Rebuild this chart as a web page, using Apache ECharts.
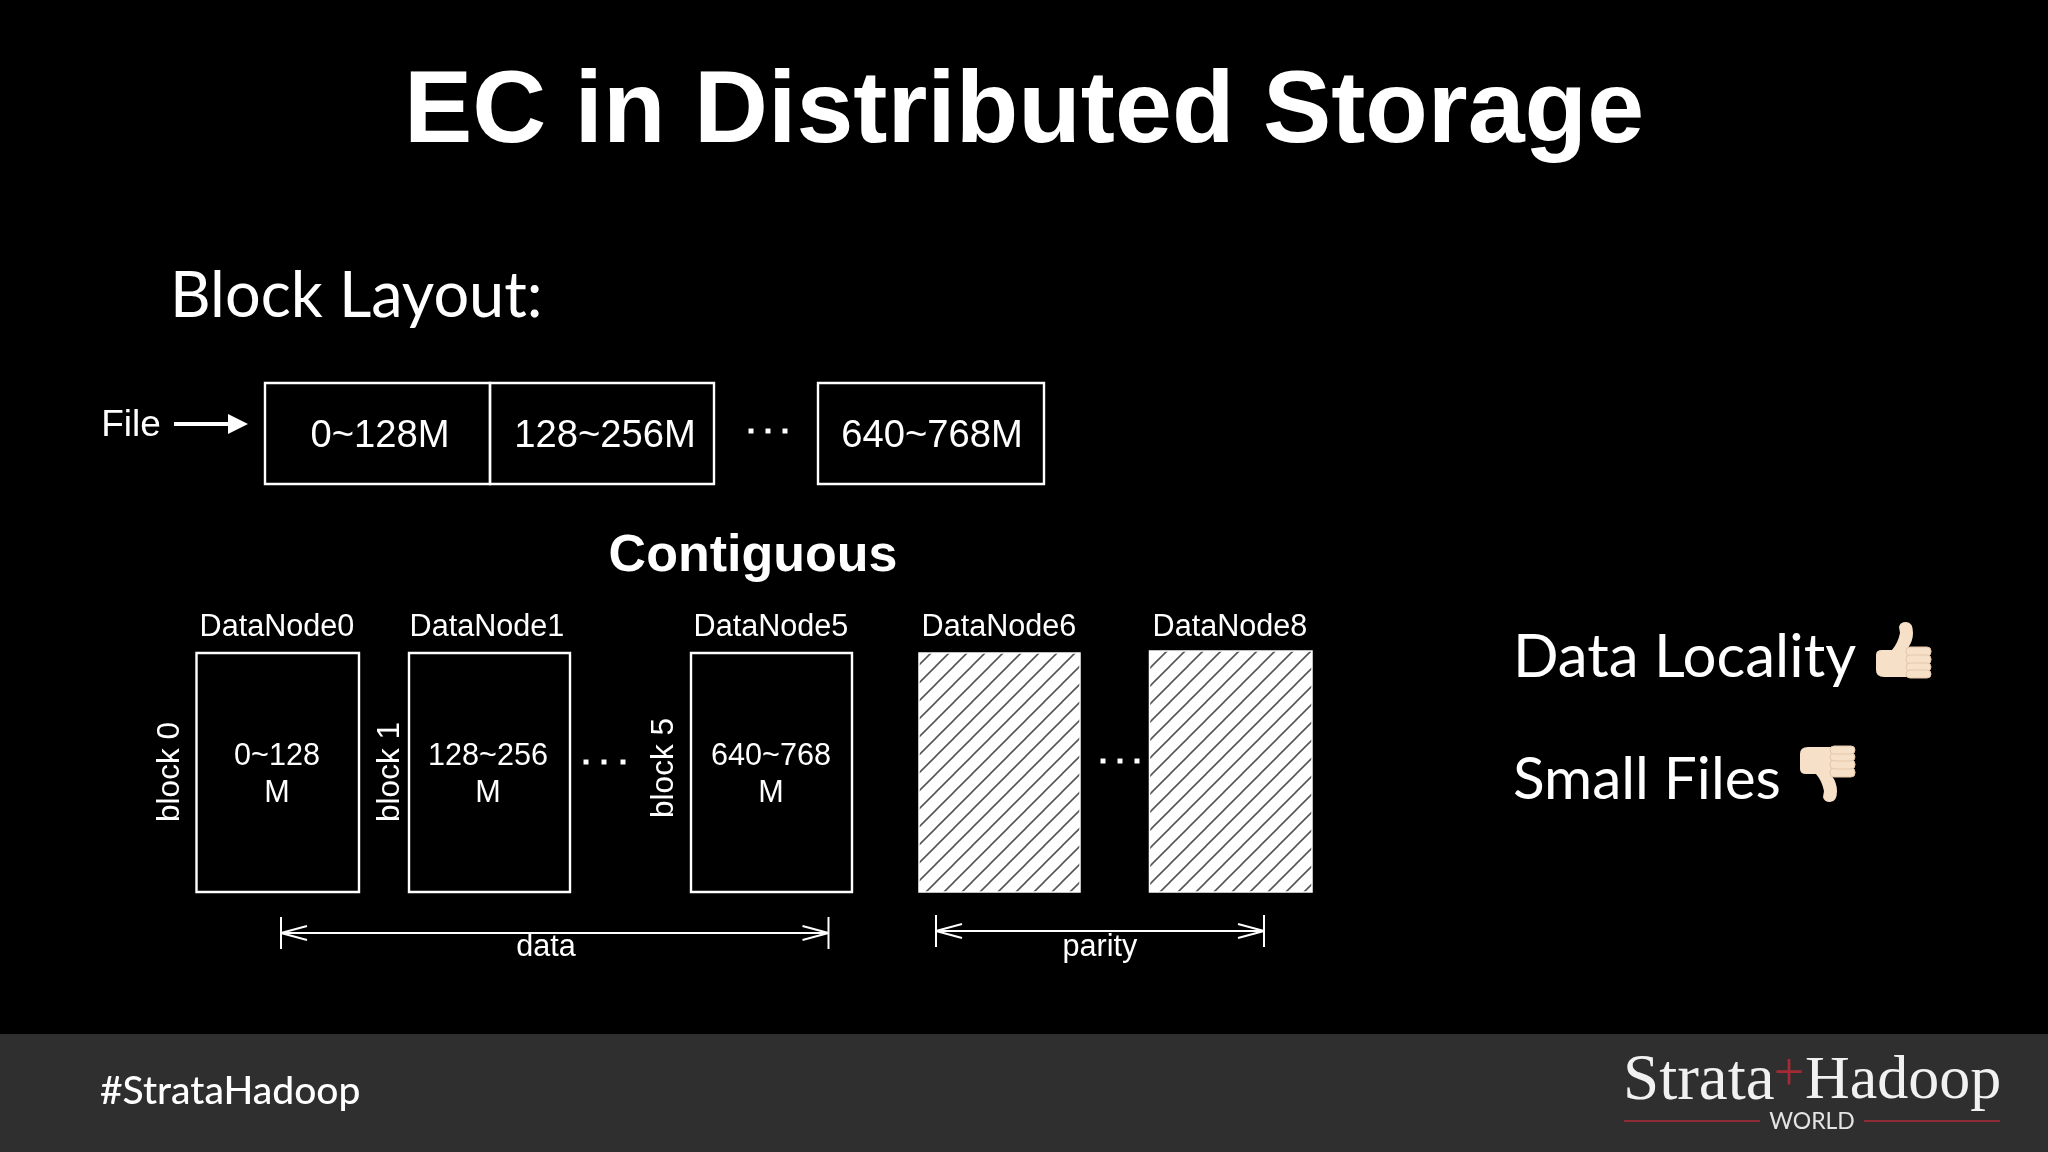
<!DOCTYPE html>
<html>
<head>
<meta charset="utf-8">
<style>
    html, body { margin: 0; padding: 0; background: #000; }
    #main { width: 2048px; height: 1152px; }
</style>
</head>
<body>
<div id="main"></div>
<script src="https://cdn.jsdelivr.net/npm/echarts@6/dist/echarts.min.js"></script>
<script>
    var fileBlocks = ['0~128M', '128~256M', '640~768M'];
    var fileBlockX = [[265, 490], [490, 714], [818, 1044]];
    var fileBlockY = [383, 484];
    var fileLabelX = [380, 605, 932];
    var fileDots = [[751, 431], [768, 431], [785, 431]];

    var dataNodes = ['DataNode0', 'DataNode1', 'DataNode5'];
    var dataNodeX = [[196.5, 359], [409, 570], [691, 852]];
    var dataLabelX = [277, 488, 771];
    var ranges = ['0~128', '128~256', '640~768'];
    var blockNames = ['block 0', 'block 1', 'block 5'];
    var blockNameX = [170, 390, 664];
    var blockNameY = [772, 772, 768];
    var nodeY = [653, 892];
    var dataDots = [[586, 762], [604, 762], [623, 762]];

    var parityNodes = ['DataNode6', 'DataNode8'];
    var parityNodeX = [[919, 1080], [1149.5, 1312]];
    var parityNodeY = [[653, 892], [651, 892]];
    var parityLabelX = [999, 1230];
    var parityDots = [[1103, 761], [1120, 761], [1137, 761]];

    var spanNames = ['data', 'parity'];
    var spans = [[281, 828.5, 933], [936, 1264, 931]];
    var spanLabelX = [546, 1100];

    var thumbs = [[1870, 615, 1], [1794, 809, -1]];
    var logoRules = [[1624, 1760, 1121], [1864, 2000, 1121]];

    var HELV = '"Liberation Sans"';
    var GILL = 'Lato';
    var SLAB = '"Liberation Serif"';

    // label table: text, x, y, size, family, weight, colour, rotation
    var labels = [
        ['EC in Distributed Storage', 1024, 114, 102.4, HELV, 'bold', '#fff', 0],
        ['Block Layout:', 170, 297, 63, GILL, 'normal', '#fff', 0],
        ['File', 131, 426, 37, HELV, 'normal', '#fff', 0],
        ['Contiguous', 753, 557, 52, HELV, 'bold', '#fff', 0],
        ['Data Locality', 1513, 658, 60, GILL, 'normal', '#fff', 0],
        ['Small Files', 1513, 780, 58.5, GILL, 'normal', '#fff', 0],
        ['#StrataHadoop', 100, 1091, 39, GILL, '500', '#fff', 0],
        ['Strata', 1623, 1082, 65, SLAB, 'normal', '#f1f1f1', 0],
        ['+', 1789, 1076, 54, SLAB, 'normal', '#a52a35', 0],
        ['Hadoop', 1805, 1082, 62, SLAB, 'normal', '#f1f1f1', 0],
        ['WORLD', 1812, 1122, 23, GILL, 'normal', '#e4e4e4', 0]
    ];
    fileBlocks.forEach(function (t, i) {
        labels.push([t, fileLabelX[i], 436, 38.2, HELV, 'normal', '#fff', 0]);
    });
    dataNodes.forEach(function (t, i) {
        labels.push([t, dataLabelX[i] - (i === 1 ? 1 : 0), 628, 30.6, HELV, 'normal', '#fff', 0]);
        labels.push([ranges[i], dataLabelX[i], 757, 30.6, HELV, 'normal', '#fff', 0]);
        labels.push(['M', dataLabelX[i], 794, 30.6, HELV, 'normal', '#fff', 0]);
        labels.push([blockNames[i], blockNameX[i], blockNameY[i], 31.5, HELV, 'normal', '#fff', Math.PI / 2]);
    });
    parityNodes.forEach(function (t, i) {
        labels.push([t, parityLabelX[i], 628, 30.6, HELV, 'normal', '#fff', 0]);
    });
    spanNames.forEach(function (t, i) {
        labels.push([t, spanLabelX[i], 948, 30.6, HELV, 'normal', '#fff', 0]);
    });
    var leftAligned = { 'Block Layout:': 1, 'Data Locality': 1, 'Small Files': 1, '#StrataHadoop': 1, 'Strata': 1, 'Hadoop': 1 };

    function hatchTile() {
        var tile = document.createElement('canvas');
        tile.width = 18;
        tile.height = 18;
        var ctx = tile.getContext('2d');
        ctx.fillStyle = '#fff';
        ctx.fillRect(0, 0, 18, 18);
        ctx.strokeStyle = '#555';
        ctx.lineWidth = 1.6;
        [-18, 0, 18].forEach(function (o) {
            ctx.beginPath();
            ctx.moveTo(o - 2, 20);
            ctx.lineTo(o + 20, -2);
            ctx.stroke();
        });
        return tile;
    }
    var hatch = { image: hatchTile(), repeat: 'repeat' };

    function boxItem(api) {
        var a = api.coord([api.value(0), api.value(1)]);
        var b = api.coord([api.value(2), api.value(3)]);
        return { x: a[0], y: a[1], width: b[0] - a[0], height: b[1] - a[1] };
    }

    var plainBoxes = [];
    fileBlockX.forEach(function (x) { plainBoxes.push([x[0], fileBlockY[0], x[1], fileBlockY[1]]); });
    dataNodeX.forEach(function (x) { plainBoxes.push([x[0], nodeY[0], x[1], nodeY[1]]); });
    var hatchBoxes = parityNodeX.map(function (x, i) {
        return [x[0], parityNodeY[i][0], x[1], parityNodeY[i][1]];
    });

    function spanShape(params, api) {
        var l = api.value(0), r = api.value(1), y = api.value(2);
        var segs = [
            [[l, y], [r, y]], [[l, y - 16], [l, y + 16]], [[r, y - 16], [r, y + 16]],
            [[l, y], [l + 26, y - 7]], [[l, y], [l + 26, y + 7]],
            [[r, y], [r - 26, y - 7]], [[r, y], [r - 26, y + 7]]
        ];
        return {
            type: 'group',
            children: segs.map(function (s) {
                var p = api.coord(s[0]), q = api.coord(s[1]);
                return { type: 'line', shape: { x1: p[0], y1: p[1], x2: q[0], y2: q[1] }, style: { stroke: '#fff', lineWidth: 2 } };
            })
        };
    }

    function thumbShape(params, api) {
        var p = api.coord([api.value(0), api.value(1)]);
        var flip = api.value(2);
        var skin = '#f7e0c8', crease = '#e2c6a9';
        var kids = [{
            type: 'path',
            shape: {
                pathData: 'M6 40Q6 35 12 35L22 35Q28 28 30 18L29 12Q30 7 36 7Q43 7 43 18Q43 26 38 33L40 62L14 62Q6 62 6 55Z',
                x: 6, y: 7, width: 37, height: 55, layout: 'cover'
            },
            style: { fill: skin }
        }];
        [[32, 9], [40, 9], [48, 8], [55, 8]].forEach(function (f) {
            kids.push({
                type: 'rect',
                shape: { x: 36, y: f[0], width: 25, height: f[1], r: 4 },
                style: { fill: skin, stroke: crease, lineWidth: 1 }
            });
        });
        return { type: 'group', x: p[0], y: p[1], scaleY: flip, children: kids };
    }

    function labelShape(params, api) {
        var row = labels[params.dataIndex];
        var p = api.coord([row[1], row[2]]);
        return {
            type: 'text',
            x: p[0],
            y: p[1],
            rotation: row[7],
            style: {
                text: row[0],
                fill: row[6],
                font: row[5] + ' ' + row[3] + 'px ' + row[4],
                align: leftAligned[row[0]] ? 'left' : 'center',
                verticalAlign: 'middle'
            }
        };
    }

    var chart = echarts.init(document.getElementById('main'));
    chart.setOption({
        backgroundColor: '#000',
        animation: false,
        grid: { left: 0, right: 0, top: 0, bottom: 0 },
        xAxis: { type: 'value', min: 0, max: 2048, show: false },
        yAxis: { type: 'value', min: 0, max: 1152, inverse: true, show: false },
        series: [
            {
                name: 'footer',
                type: 'custom',
                clip: false,
                data: [[0, 1034, 2048, 1152]],
                renderItem: function (params, api) {
                    return { type: 'rect', shape: boxItem(api), style: { fill: '#2f2f30' } };
                }
            },
            {
                name: 'blocks',
                type: 'custom',
                clip: false,
                data: plainBoxes,
                renderItem: function (params, api) {
                    return { type: 'rect', shape: boxItem(api), style: { fill: 'none', stroke: '#fff', lineWidth: 2.4 } };
                }
            },
            {
                name: 'parity blocks',
                type: 'custom',
                clip: false,
                data: hatchBoxes,
                renderItem: function (params, api) {
                    return { type: 'rect', shape: boxItem(api), style: { fill: hatch, stroke: '#fff', lineWidth: 1.5 } };
                }
            },
            {
                name: 'spans',
                type: 'custom',
                clip: false,
                data: spans,
                renderItem: spanShape
            },
            {
                name: 'file arrow',
                type: 'lines',
                coordinateSystem: 'cartesian2d',
                data: [{ coords: [[174, 424], [238, 424]] }],
                symbol: ['none', 'triangle'],
                symbolSize: 20,
                lineStyle: { color: '#fff', width: 4, opacity: 1 }
            },
            {
                name: 'logo rules',
                type: 'custom',
                clip: false,
                data: logoRules,
                renderItem: function (params, api) {
                    var p = api.coord([api.value(0), api.value(2)]);
                    var q = api.coord([api.value(1), api.value(2)]);
                    return { type: 'line', shape: { x1: p[0], y1: p[1], x2: q[0], y2: q[1] }, style: { stroke: '#8e2b35', lineWidth: 2 } };
                }
            },
            {
                name: 'dots',
                type: 'scatter',
                symbol: 'rect',
                symbolSize: 5,
                itemStyle: { color: '#fff', opacity: 1 },
                data: fileDots.concat(dataDots, parityDots)
            },
            {
                name: 'thumbs',
                type: 'custom',
                clip: false,
                data: thumbs,
                renderItem: thumbShape
            },
            {
                name: 'labels',
                type: 'custom',
                clip: false,
                z: 5,
                data: labels.map(function (row) { return [row[1], row[2]]; }),
                renderItem: labelShape
            }
        ]
    });
</script>
</body>
</html>
